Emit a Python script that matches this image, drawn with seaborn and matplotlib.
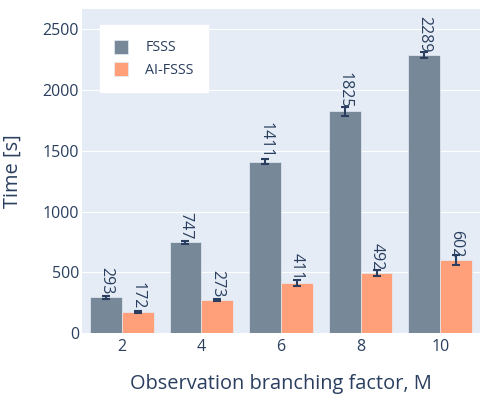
import numpy as np
import pandas as pd
import matplotlib
matplotlib.use('Agg')
import matplotlib.pyplot as plt
import seaborn as sns

# Data
branching = [2, 4, 6, 8, 10]
methods = ['FSSS', 'AI-FSSS']
fsss_time = [293, 747, 1411, 1825, 2289]
ai_fsss_time = [172, 273, 411, 492, 602]
fsss_err = [12, 12, 22, 36, 26]
ai_fsss_err = [10, 10, 26, 25, 41]

palette = {'FSSS': '#778899', 'AI-FSSS': '#FFA07A'}
text_color = '#2a3f5f'

df = pd.DataFrame({
    'M': branching * 2,
    'method': ['FSSS'] * len(branching) + ['AI-FSSS'] * len(branching),
    'time': fsss_time + ai_fsss_time,
})

sns.set_theme(style='whitegrid', rc={
    'axes.facecolor': '#E5ECF6',
    'grid.color': 'white',
    'grid.linewidth': 0.8,
    'axes.edgecolor': '#E5ECF6',
})
plt.rcParams['font.family'] = ['Open Sans', 'DejaVu Sans']

fig = plt.figure(figsize=(4.9, 3.98), dpi=100)
ax = fig.add_axes([0.1673, 0.1633, 0.8123, 0.8141])

sns.barplot(data=df, x='M', y='time', hue='method', hue_order=methods,
            palette=palette, native_scale=True, width=0.8, errorbar=None,
            edgecolor='#E5ECF6', linewidth=0.5, saturation=1, ax=ax)

# error bars and rotated value labels on top of each bar
errors = [fsss_err, ai_fsss_err]
values = [fsss_time, ai_fsss_time]
for cont, err, vals in zip(ax.containers, errors, values):
    xs = [p.get_x() + p.get_width() / 2 for p in cont.patches]
    ax.errorbar(xs, vals, yerr=err, fmt='none', ecolor=text_color,
                elinewidth=1.5, capsize=3, capthick=1.5, zorder=5)
    ax.bar_label(cont, labels=[str(v) for v in vals], rotation=-90,
                 padding=2, fontsize=11.5, color=text_color)

ax.set_xlim(1, 11)
ax.set_ylim(0, 2667)
ax.set_xticks(branching)
ax.set_yticks([0, 500, 1000, 1500, 2000, 2500])
ax.xaxis.grid(False)
ax.tick_params(axis='both', length=0, labelsize=11.5, colors=text_color)
ax.tick_params(axis='x', pad=4)
ax.tick_params(axis='y', pad=2)
for s in ax.spines.values():
    s.set_visible(False)

ax.set_xlabel('Observation branching factor, M', fontsize=14.4, color=text_color)
ax.set_ylabel('Time [s]', fontsize=14.4, color=text_color)
ax.xaxis.set_label_coords(0.5, -0.127)
ax.yaxis.set_label_coords(-0.148, 0.5)

handles, labels = ax.get_legend_handles_labels()
ax.legend(handles, labels, loc='upper left', bbox_to_anchor=(0.045, 0.95),
          frameon=True, facecolor='white', edgecolor='white', framealpha=1,
          fancybox=False, fontsize=10.3, handlelength=0.98, handleheight=1.13,
          handletextpad=1.2, labelspacing=0.45, borderpad=1.0,
          borderaxespad=0, labelcolor=text_color)

fig.savefig('out.png', dpi=100)
